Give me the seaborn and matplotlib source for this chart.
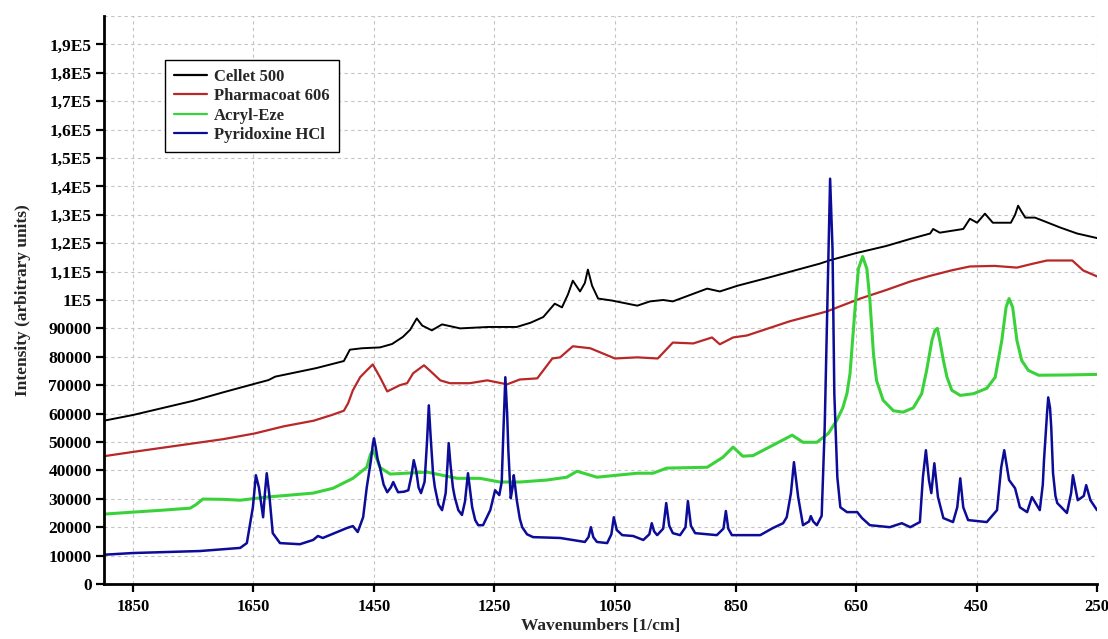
import matplotlib
matplotlib.use("Agg")
import matplotlib.pyplot as plt
import pandas as pd
import seaborn as sns

# Raman spectra: wavenumber (1/cm) and intensity (arbitrary units) per sample
cellet_wn = [1898, 1850, 1800, 1750, 1700, 1648, 1625, 1614, 1580, 1546, 1500, 1490,
             1470, 1440, 1420, 1402, 1390, 1379, 1370, 1354, 1337, 1307, 1260, 1213,
             1190, 1169, 1150, 1138, 1128, 1120, 1108, 1100, 1095, 1088, 1078, 1055,
             1013, 992, 970, 954, 897, 876, 847, 793, 750, 710, 693, 650, 600, 560,
             527, 522, 511, 472, 461, 449, 436, 423, 393, 386, 381, 375, 369, 353,
             336, 311, 283, 250]
cellet_int = [57500, 59500, 62000, 64500, 67500, 70500, 71800, 73000, 74500, 76000, 78500, 82500,
              83000, 83300, 84500, 87000, 89500, 93500, 91000, 89300, 91400, 90000, 90500, 90500,
              92000, 94000, 98700, 97400, 102000, 106800, 103000, 106000, 110700, 105000, 100500, 99800,
              98000, 99500, 100000, 99500, 104000, 103000, 105000, 108000, 110500, 112800, 114000, 116500, 119000, 121500,
              123400, 125000, 123700, 125000, 128600, 127200, 130400, 127200, 127200, 130000, 133200, 131000, 129000, 129000,
              127600, 125500, 123400, 121800]

pharmacoat_wn = [1898, 1850, 1800, 1750, 1700, 1648, 1600, 1550, 1520, 1500, 1493, 1485,
                 1473, 1462, 1452, 1440, 1428, 1407, 1395, 1385, 1367, 1354, 1340, 1324,
                 1291, 1262, 1229, 1208, 1179, 1154, 1141, 1120, 1091, 1050, 1013, 979,
                 954, 920, 889, 876, 854, 831, 760, 710, 698, 643, 600, 560, 527, 490,
                 461, 420, 383, 356, 333, 291, 273, 250]
pharmacoat_int = [45000, 46500, 48000, 49500, 51000, 53000, 55500, 57500, 59500, 61000, 63600, 68200,
                  72800, 75200, 77300, 72800, 67800, 70000, 70700, 74200, 77000, 74500, 71700, 70700,
                  70700, 71700, 70300, 72000, 72400, 79400, 79800, 83700, 83000, 79400, 79800, 79400,
                  85000, 84700, 86800, 84400, 86800, 87500, 92500, 95300, 96000, 100500, 103500, 106500, 108500, 110500,
                  111800, 112000, 111400, 112800, 113900, 113900, 110400, 108300]

acryl_wn = [1898, 1850, 1800, 1755, 1745, 1734, 1700, 1672, 1628, 1551, 1518, 1485,
            1462, 1456, 1452, 1447, 1440, 1423, 1362, 1312, 1274, 1241, 1208, 1163,
            1130, 1113, 1080, 1013, 987, 964, 897, 871, 854, 838, 821, 756, 738,
            715, 696, 682, 672, 665, 660, 652, 646, 639, 632, 627, 621, 616, 605,
            588, 572, 555, 541, 533, 524, 519, 515, 511, 505, 499, 491, 477, 455,
            433, 419, 408, 401, 396, 390, 383, 375, 364, 347, 300, 250]
acryl_int = [24600, 25300, 26000, 26700, 28000, 29900, 29800, 29500, 30600, 32000, 33700, 37200,
             41100, 45500, 47100, 45000, 41000, 38700, 39400, 37200, 37200, 35900, 35900, 36600,
             37600, 39700, 37600, 39000, 39000, 40800, 41100, 44600, 48200, 45000, 45200, 52400, 49900,
             49900, 53000, 57600, 62000, 67100, 74000, 96000, 111000, 115300, 111000, 100000, 81000, 71700, 64700,
             61000, 60500, 62000, 67000, 75000, 85800, 89300, 90000, 85800, 78700, 72800, 68200, 66400, 67000,
             68900, 72800, 85800, 97400, 100500, 97400, 85800, 78700, 75200, 73500, 73600, 73800]

pyridoxine_wn = [1898, 1850, 1739, 1672, 1661, 1651, 1646, 1641, 1634, 1631, 1628, 1624,
                 1618, 1606, 1573, 1551, 1543, 1535, 1495, 1485, 1477, 1468, 1462, 1455,
                 1452, 1450, 1447, 1444, 1440, 1434, 1428, 1422, 1418, 1414, 1410, 1400,
                 1393, 1388, 1384, 1380, 1376, 1372, 1366, 1362, 1359, 1356, 1352, 1349,
                 1343, 1337, 1331, 1328, 1326, 1323, 1319, 1316, 1310, 1304, 1299, 1296,
                 1294, 1291, 1287, 1282, 1277, 1269, 1257, 1249, 1242, 1238, 1235, 1232,
                 1229, 1227, 1223, 1220, 1218, 1216, 1213, 1208, 1204, 1196, 1186, 1141,
                 1100, 1094, 1090, 1086, 1080, 1063, 1056, 1052, 1047, 1038, 1020, 1003,
                 993, 989, 985, 980, 970, 965, 960, 954, 942, 933, 929, 924, 917, 881,
                 870, 866, 862, 856, 809, 788, 771, 765, 758, 753, 749, 746, 738, 728,
                 725, 721, 715, 707, 702, 696, 693, 689, 686, 681, 676, 665, 648, 640,
                 627, 594, 574, 560, 544, 539, 534, 529, 525, 520, 514, 505, 489, 482,
                 477, 472, 464, 433, 416, 409, 404, 396, 386, 378, 366, 358, 345, 340,
                 338, 333, 331, 328, 326, 323, 319, 316, 300, 293, 290, 282, 272, 268,
                 261, 250]
pyridoxine_int = [10300, 10900, 11600, 12700, 14400, 27000, 38300, 34000, 23500, 32000, 39000, 32000,
                  17900, 14400, 14000, 15500, 16900, 16200, 19700, 20400, 18300, 23500, 34000, 43600,
                  49000, 51300, 48000, 44000, 41000, 35000, 32300, 34000, 35900, 34000, 32300, 32500,
                  33000, 38000, 43600, 40000, 34000, 32000, 36000, 50000, 62900, 52000, 39000, 34100,
                  28000, 26000, 32000, 42000, 49600, 42000, 34000, 30600, 26000, 24300, 29000, 35000,
                  39000, 34000, 27000, 22500, 20700, 20700, 26000, 33000, 31300, 36000, 55000, 72800,
                  60000, 47100, 30200, 34000, 38300, 35000, 29500, 23000, 20000, 17500, 16500, 16200,
                  14800, 16500, 20000, 16500, 14800, 14400, 17500, 23500, 19000, 17200, 16900, 15500,
                  17500, 21400, 18500, 17200, 19500, 28500, 20500, 17900, 17200, 20000, 29200, 20500, 17900, 17200,
                  19500, 25700, 19500, 17200, 17200, 19700, 21400, 23500, 32000, 42900, 36000, 30600, 20700, 22000,
                  23900, 22000, 20700, 24000, 55000, 114000, 142700, 118000, 67000, 37600, 27000, 25300, 25300, 23200,
                  20700, 20000, 21400, 20000, 21800, 37600, 47100, 36600, 32000, 42500, 30600, 23200, 21800, 27000,
                  37200, 27000, 22500, 21800, 26000, 41100, 47100, 36600, 33700, 27000, 25300, 30600, 26000, 35000,
                  43600, 60000, 65700, 62000, 55200, 39000, 31000, 28500, 25000, 32000, 38300, 29500, 31000, 34800,
                  29500, 26000]

samples = ["Cellet 500", "Pharmacoat 606", "Acryl-Eze", "Pyridoxine HCl"]
colors = ["#000000", "#b82828", "#3ad23a", "#0c0c98"]
widths = [1.4, 1.6, 2.2, 1.8]

x_ticks = [1850, 1650, 1450, 1250, 1050, 850, 650, 450, 250]
y_ticks = [0, 10000, 20000, 30000, 40000, 50000, 60000, 70000, 80000, 90000,
           100000, 110000, 120000, 130000, 140000, 150000, 160000, 170000, 180000, 190000]
y_tick_labels = ["0", "10000", "20000", "30000", "40000", "50000", "60000", "70000",
                 "80000", "90000", "1E5", "1,1E5", "1,2E5", "1,3E5", "1,4E5", "1,5E5",
                 "1,6E5", "1,7E5", "1,8E5", "1,9E5"]

frames = []
for name, wn, inten in zip(samples,
                           [cellet_wn, pharmacoat_wn, acryl_wn, pyridoxine_wn],
                           [cellet_int, pharmacoat_int, acryl_int, pyridoxine_int]):
    frames.append(pd.DataFrame({"Wavenumber": wn, "Intensity": inten, "Sample": name}))
df = pd.concat(frames, ignore_index=True)

sns.set_theme(style="white")
plt.rcParams["font.family"] = ["Liberation Serif", "DejaVu Serif"]
plt.rcParams["font.weight"] = "bold"
plt.rcParams["axes.labelweight"] = "bold"

fig = plt.figure(figsize=(11.08, 6.39), dpi=100)
ax = fig.add_axes([0.0939, 0.0861, 0.8962, 0.8889])

sns.lineplot(data=df, x="Wavenumber", y="Intensity", hue="Sample",
             hue_order=samples, palette=colors, estimator=None, sort=True,
             linewidth=1.6, legend=False, ax=ax)
for line, lw in zip(ax.lines, widths):
    line.set_linewidth(lw)
    line.set_solid_joinstyle("round")

ax.set_xlim(1898, 250)
ax.set_ylim(0, 200000)
ax.set_xticks(x_ticks)
ax.set_xticklabels([str(v) for v in x_ticks])
ax.set_yticks(y_ticks)
ax.set_yticklabels(y_tick_labels)
ax.set_yticks([200000], minor=True)

ax.grid(True, which="both", linestyle=(0, (3, 3)), color="#c4c4c4", linewidth=0.8)
ax.set_axisbelow(True)

for side in ["top", "right"]:
    ax.spines[side].set_visible(False)
for side in ["left", "bottom"]:
    ax.spines[side].set_color("black")
    ax.spines[side].set_linewidth(2.0)

ax.tick_params(axis="both", which="major", direction="out", length=6, width=1.6,
               colors="black", labelsize=12.5, pad=3, bottom=True, left=True)
ax.tick_params(axis="x", which="major", pad=5, labelsize=12)
ax.tick_params(axis="y", which="minor", length=0, left=False)

ax.set_xlabel("Wavenumbers [1/cm]", fontsize=12.5, fontweight="bold", labelpad=2)
ax.set_ylabel("Intensity (arbitrary units)", fontsize=12.5, fontweight="bold", labelpad=12)

handles = [plt.Line2D([0], [0], color=c, lw=1.6) for c in colors]
leg = ax.legend(handles, samples, loc="upper left", bbox_to_anchor=(0.061, 0.923),
                frameon=True, fancybox=False, edgecolor="black", framealpha=1,
                fontsize=12, handlelength=2.0, handletextpad=0.4,
                labelspacing=0.2, borderpad=0.55, borderaxespad=0)
leg.get_frame().set_linewidth(1.0)

fig.savefig("out.png", dpi=100)
